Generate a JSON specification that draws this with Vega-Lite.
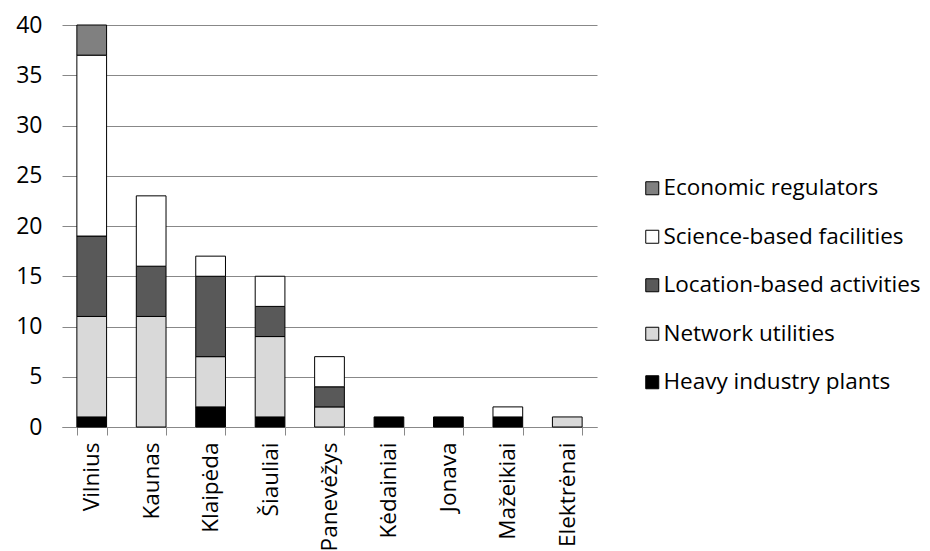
{
  "$schema": "https://vega.github.io/schema/vega-lite/v6.json",
  "width": 535,
  "height": 402,
  "autosize": "none",
  "padding": {"left": 62, "top": 25, "right": 333, "bottom": 124},
  "background": "white",
  "config": {
    "font": "Open Sans",
    "view": {"stroke": null}
  },
  "data": {
    "values": [
      {"city": "Vilnius", "type": "Heavy industry plants", "idx": 1, "n": 1},
      {"city": "Vilnius", "type": "Network utilities", "idx": 2, "n": 10},
      {"city": "Vilnius", "type": "Location-based activities", "idx": 3, "n": 8},
      {"city": "Vilnius", "type": "Science-based facilities", "idx": 4, "n": 18},
      {"city": "Vilnius", "type": "Economic regulators", "idx": 5, "n": 3},
      {"city": "Kaunas", "type": "Network utilities", "idx": 2, "n": 11},
      {"city": "Kaunas", "type": "Location-based activities", "idx": 3, "n": 5},
      {"city": "Kaunas", "type": "Science-based facilities", "idx": 4, "n": 7},
      {"city": "Klaipėda", "type": "Heavy industry plants", "idx": 1, "n": 2},
      {"city": "Klaipėda", "type": "Network utilities", "idx": 2, "n": 5},
      {"city": "Klaipėda", "type": "Location-based activities", "idx": 3, "n": 8},
      {"city": "Klaipėda", "type": "Science-based facilities", "idx": 4, "n": 2},
      {"city": "Šiauliai", "type": "Heavy industry plants", "idx": 1, "n": 1},
      {"city": "Šiauliai", "type": "Network utilities", "idx": 2, "n": 8},
      {"city": "Šiauliai", "type": "Location-based activities", "idx": 3, "n": 3},
      {"city": "Šiauliai", "type": "Science-based facilities", "idx": 4, "n": 3},
      {"city": "Panevėžys", "type": "Network utilities", "idx": 2, "n": 2},
      {"city": "Panevėžys", "type": "Location-based activities", "idx": 3, "n": 2},
      {"city": "Panevėžys", "type": "Science-based facilities", "idx": 4, "n": 3},
      {"city": "Kėdainiai", "type": "Heavy industry plants", "idx": 1, "n": 1},
      {"city": "Jonava", "type": "Heavy industry plants", "idx": 1, "n": 1},
      {"city": "Mažeikiai", "type": "Heavy industry plants", "idx": 1, "n": 1},
      {"city": "Mažeikiai", "type": "Science-based facilities", "idx": 4, "n": 1},
      {"city": "Elektrėnai", "type": "Network utilities", "idx": 2, "n": 1}
    ]
  },
  "mark": {"type": "bar", "stroke": "#000000", "strokeWidth": 1},
  "encoding": {
    "x": {
      "field": "city",
      "type": "nominal",
      "sort": ["Vilnius", "Kaunas", "Klaipėda", "Šiauliai", "Panevėžys", "Kėdainiai", "Jonava", "Mažeikiai", "Elektrėnai"],
      "scale": {"paddingInner": 0.5, "paddingOuter": 0.25},
      "axis": {
        "title": null,
        "labelAngle": -90,
        "labelFontSize": 22.5,
        "labelColor": "#000000",
        "labelPadding": 7,
        "tickBand": "extent",
        "tickSize": 8,
        "tickColor": "#888888",
        "domainColor": "#888888",
        "grid": false
      }
    },
    "y": {
      "field": "n",
      "type": "quantitative",
      "stack": "zero",
      "scale": {"domain": [0, 40], "nice": false},
      "axis": {
        "title": null,
        "values": [0, 5, 10, 15, 20, 25, 30, 35, 40],
        "labelFontSize": 23,
        "labelColor": "#000000",
        "labelPadding": 20,
        "domain": false,
        "ticks": false,
        "gridColor": "#888888",
        "gridOpacity": 1
      }
    },
    "order": {"field": "idx", "type": "quantitative", "sort": "ascending"},
    "color": {
      "field": "type",
      "type": "nominal",
      "scale": {
        "domain": ["Economic regulators", "Science-based facilities", "Location-based activities", "Network utilities", "Heavy industry plants"],
        "range": ["#808080", "#ffffff", "#595959", "#d9d9d9", "#000000"]
      },
      "legend": {
        "title": null,
        "orient": "none",
        "legendX": 579,
        "legendY": 152,
        "symbolType": "square",
        "symbolSize": 169,
        "symbolStrokeColor": "#000000",
        "symbolStrokeWidth": 1,
        "labelFontSize": 22.5,
        "labelColor": "#000000",
        "labelOffset": 0,
        "rowPadding": 25.5,
        "labelLimit": 400
      }
    }
  }
}
